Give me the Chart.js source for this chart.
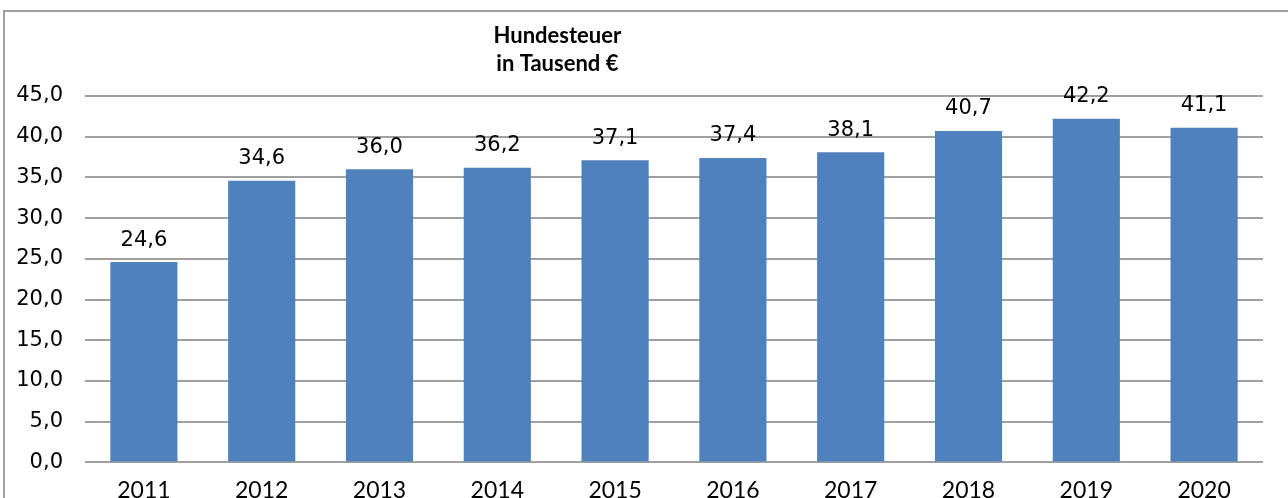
<!DOCTYPE html>
<html>
<head>
<meta charset="utf-8">
<script src="https://cdn.jsdelivr.net/npm/chart.js@4"></script>
<style>
    html, body { margin: 0; padding: 0; background: #fff; overflow: hidden; }
    #frame {
        position: absolute; left: 3px; top: 10px;
        width: 1400px; height: 600px;
        border-top: 2px solid #a0a0a0; border-left: 2px solid #a0a0a0;
    }
    #wrap { position: absolute; left: 0; top: 0; width: 1288px; height: 520px; }
</style>
</head>
<body>
<div id="frame"></div>
<div id="wrap"><canvas id="taxChart"></canvas></div>
<script>
// Hundesteuer in Tausend Euro
const years = ['2011', '2012', '2013', '2014', '2015', '2016', '2017', '2018', '2019', '2020'];
const dogTax = [24.6, 34.6, 36.0, 36.2, 37.1, 37.4, 38.1, 40.7, 42.2, 41.1];
const titleLines = ['Hundesteuer', 'in Tausend €'];

function fmt(v) {
    return v.toFixed(1).replace('.', ',');
}

// Title and value labels
const labelsPlugin = {
    id: 'labels',
    afterDatasetsDraw(chart) {
        const ctx = chart.ctx;
        const area = chart.chartArea;
        ctx.save();
        ctx.fillStyle = '#000';
        ctx.textAlign = 'center';
        ctx.textBaseline = 'middle';
        ctx.font = '21px "DejaVu Sans"';
        chart.getDatasetMeta(0).data.forEach((bar, i) => {
            ctx.fillText(fmt(dogTax[i]), bar.x, bar.y - 22);
        });
        ctx.font = 'bold 22px Lato';
        const tx = area.left + (area.right - area.left) * 0.401;
        titleLines.forEach((line, i) => {
            ctx.fillText(line, tx, 36 + i * 28);
        });
        ctx.restore();
    }
};

const ctx = document.getElementById('taxChart').getContext('2d');
new Chart(ctx, {
    type: 'bar',
    data: {
        labels: years,
        datasets: [{
            data: dogTax,
            backgroundColor: '#4f81bd',
            categoryPercentage: 1,
            barPercentage: 0.57
        }]
    },
    options: {
        responsive: true,
        maintainAspectRatio: false,
        animation: false,
        layout: { padding: { top: 96, left: 15, right: 25, bottom: 10 } },
        plugins: {
            legend: { display: false },
            tooltip: { enabled: false },
            title: { display: false }
        },
        scales: {
            x: {
                grid: { display: false },
                border: { display: false },
                ticks: { color: '#000', font: { family: 'Lato', size: 23 }, padding: 6 }
            },
            y: {
                min: 0,
                max: 45,
                afterFit: s => { s.width = 70; },
                grid: { color: '#a0a0a0', lineWidth: 2, drawTicks: false },
                border: { display: false },
                ticks: {
                    stepSize: 5,
                    padding: 22,
                    color: '#000',
                    font: { family: 'DejaVu Sans', size: 21 },
                    callback: v => fmt(v)
                }
            }
        }
    },
    plugins: [labelsPlugin]
});
</script>
</body>
</html>
